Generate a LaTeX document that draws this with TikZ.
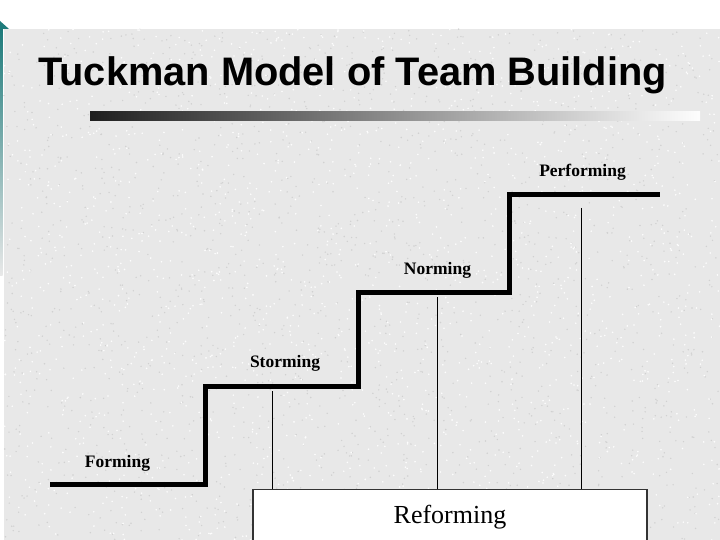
\documentclass[tikz,border=0pt]{standalone}
\usepackage{fontspec}
\setmainfont{Liberation Serif}
\newfontfamily\titlefont{Liberation Sans}
\definecolor{bggray}{HTML}{E8E8E8}
\definecolor{tealc}{HTML}{1E7B7B}
\definecolor{boxline}{HTML}{333333}
\begin{document}
\begin{tikzpicture}[x=1pt,y=-1pt,
  stair/.style={line width=5pt, line join=miter, black},
  thinline/.style={line width=1.1pt, black},
  stagelabel/.style={font=\bfseries\fontsize{17.5}{20}\selectfont, anchor=base, inner sep=0pt},
  refbox/.style={draw=boxline, line width=1.4pt, fill=white, minimum width=394pt, minimum height=90pt, anchor=north, inner sep=0pt}]
\clip (0,0) rectangle (720,540);
% background
\fill[white] (0,0) rectangle (720,540);
\fill[bggray] (4,29) rectangle (720,540);
\pgfmathsetseed{7}
\foreach \i in {1,...,1800}{
  \pgfmathsetmacro{\px}{4+716*rnd}
  \pgfmathsetmacro{\py}{29+511*rnd}
  \fill[black!18] (\px,\py) circle[radius=0.8pt];
}
\foreach \i in {1,...,1800}{
  \pgfmathsetmacro{\px}{4+716*rnd}
  \pgfmathsetmacro{\py}{29+511*rnd}
  \fill[white!90!bggray] (\px,\py) circle[radius=0.9pt];
}
% teal corner
\fill[tealc] (0,21) -- (9,29) -- (0,29) -- cycle;
\shade[top color=tealc, bottom color=bggray] (0,29) rectangle (2.5,275);
% title
\node[anchor=base west, inner sep=0pt, font=\titlefont\bfseries\fontsize{39.8}{42}\selectfont] (title) at (38,86) {Tuckman Model of Team Building};
\shade[left color=black!88, right color=white!95!bggray] (90,112) rectangle (700,121);
% staircase
\coordinate (p0) at (50,484.5);
\coordinate (p1) at (205.5,484.5);
\coordinate (p2) at (205.5,386);
\coordinate (p3) at (358.5,386);
\coordinate (p4) at (358.5,292);
\coordinate (p5) at (509.5,292);
\coordinate (p6) at (509.5,195);
\coordinate (p7) at (660,195);
\draw[stair] (p0) -- (p1) -- (p2) -- (p3) -- (p4) -- (p5) -- (p6) -- (p7);
% labels
\node[stagelabel] (forming) at (117.5,467) {Forming};
\node[stagelabel] (storming) at (285,367) {Storming};
\node[stagelabel] (norming) at (437.5,274) {Norming};
\node[stagelabel] (performing) at (582.5,177) {Performing};
% reforming box
\node[refbox] (ref) at (450,489) {};
\node[anchor=base, inner sep=0pt, font=\fontsize{26}{28}\selectfont] (reftext) at (450,523) {Reforming};
% thin lines
\coordinate (t1) at (272.7,391);
\coordinate (t2) at (437.3,297);
\coordinate (t3) at (581.7,208);
\draw[thinline] (t1) -- (t1 |- ref.north);
\draw[thinline] (t2) -- (t2 |- ref.north);
\draw[thinline] (t3) -- (t3 |- ref.north);
\end{tikzpicture}
\end{document}
